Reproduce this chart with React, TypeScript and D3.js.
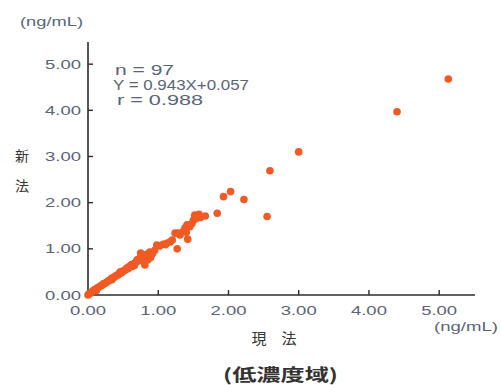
import React from "react";
import * as d3 from "d3";

// 現法 (x) vs 新法 (y), ng/mL
const points: [number, number][] = [
  [0.0, 0.0], [0.01, 0.02], [0.03, 0.03], [0.05, 0.06], [0.07, 0.09], [0.09, 0.11], [0.11, 0.12], [0.12, 0.1],
  [0.13, 0.15], [0.15, 0.16], [0.17, 0.19], [0.19, 0.2], [0.21, 0.22], [0.22, 0.24], [0.23, 0.25], [0.25, 0.26],
  [0.27, 0.28], [0.29, 0.31], [0.31, 0.32], [0.33, 0.35], [0.34, 0.33], [0.35, 0.37], [0.37, 0.38], [0.39, 0.41],
  [0.41, 0.42], [0.43, 0.44], [0.44, 0.46], [0.45, 0.47], [0.46, 0.5], [0.48, 0.48], [0.5, 0.52], [0.52, 0.53],
  [0.54, 0.55], [0.55, 0.58], [0.57, 0.57], [0.58, 0.61], [0.59, 0.6], [0.61, 0.63], [0.62, 0.66], [0.63, 0.62],
  [0.65, 0.67], [0.66, 0.64], [0.67, 0.69], [0.69, 0.72], [0.7, 0.76], [0.72, 0.74], [0.73, 0.77], [0.74, 0.8],
  [0.75, 0.91], [0.77, 0.84], [0.78, 0.87], [0.79, 0.78], [0.8, 0.72], [0.81, 0.65], [0.82, 0.82], [0.83, 0.79],
  [0.84, 0.88], [0.85, 0.76], [0.86, 0.84], [0.88, 0.93], [0.89, 0.81], [0.9, 0.86], [0.92, 0.9], [0.95, 0.97],
  [0.98, 1.08], [1.02, 1.06], [1.07, 1.1], [1.1, 1.09], [1.12, 1.12], [1.17, 1.15], [1.2, 1.19], [1.24, 1.34],
  [1.27, 1.0], [1.28, 1.34], [1.31, 1.3], [1.35, 1.37], [1.38, 1.45], [1.4, 1.36], [1.41, 1.52], [1.42, 1.21],
  [1.45, 1.48], [1.48, 1.55], [1.5, 1.62], [1.52, 1.73], [1.55, 1.66], [1.58, 1.75], [1.6, 1.68], [1.67, 1.71],
  [1.84, 1.77], [1.93, 2.13], [2.03, 2.24], [2.22, 2.07], [2.55, 1.7], [2.59, 2.69], [3.0, 3.1], [4.4, 3.97],
  [5.13, 4.68],
];
const ticks = [0, 1, 2, 3, 4, 5];
const statLines = ["n = 97", "Y = 0.943X+0.057", "r = 0.988"];
const unit = "(ng/mL)";
const xLabel = "現　法";
const yLabel = ["新", "法"];
const title = "(低濃度域)";

const dotColor = "#f15a24";
const tickColor = "#5b6477";
const axisColor = "#2b2b2b";
const font = "Liberation Sans, Arial, sans-serif";
const cjk = "Noto Sans CJK JP";

export default function App() {
  const x = d3.scaleLinear().domain([0, 5.51]).range([88, 475]);
  const y = d3.scaleLinear().domain([0, 5.48]).range([295, 42]);
  const fmt = d3.format(".2f");
  // widths of the stretched stat lines
  const statX = [115, 113, 117];
  const statW = [59, 136, 86];

  return (
    <svg
      width={501}
      height={385}
      style={{ position: "absolute", left: 0, top: 0, background: "#fff" }}
      fontFamily={font}
    >
      <text x={20} y={26} fontSize={12} fill={tickColor} textLength={63} lengthAdjust="spacingAndGlyphs">{unit}</text>

      {/* axes */}
      <line x1={x(0)} y1={y(5.48)} x2={x(0)} y2={y(0)} stroke={axisColor} strokeWidth={1.6} />
      <line x1={x(0)} y1={y(0)} x2={x(5.51)} y2={y(0)} stroke={axisColor} strokeWidth={1.6} />
      {ticks.map((t) => (
        <g key={"y" + t}>
          <line x1={x(0)} x2={x(0) + 5} y1={y(t)} y2={y(t)} stroke={axisColor} strokeWidth={1.4} />
          <text x={45} y={y(t) + 4.5} fontSize={12.5} fill={tickColor} textLength={36} lengthAdjust="spacingAndGlyphs">{fmt(t)}</text>
        </g>
      ))}
      {ticks.map((t) => (
        <g key={"x" + t}>
          {t > 0 && <line x1={x(t)} x2={x(t)} y1={y(0)} y2={y(0) - 5} stroke={axisColor} strokeWidth={1.4} />}
          <text x={x(t) - 18} y={315} fontSize={12.5} fill={tickColor} textLength={36} lengthAdjust="spacingAndGlyphs">{fmt(t)}</text>
        </g>
      ))}
      <text x={434} y={331} fontSize={12} fill={tickColor} textLength={64} lengthAdjust="spacingAndGlyphs">{unit}</text>

      {/* axis titles */}
      <text x={274} y={344} fontSize={15} fill="#333" textAnchor="middle" fontFamily={cjk}>{xLabel}</text>
      {yLabel.map((c, i) => (
        <text key={c} x={22} y={161 + i * 30} fontSize={14} fill="#333" textAnchor="middle" fontFamily={cjk}>{c}</text>
      ))}

      {/* regression stats */}
      {statLines.map((s, i) => (
        <text key={i} x={statX[i]} y={75 + i * 15} fontSize={14.5} fill={tickColor} textLength={statW[i]} lengthAdjust="spacingAndGlyphs">{s}</text>
      ))}

      {points.map((d, i) => (
        <circle key={i} cx={x(d[0])} cy={y(d[1])} r={3.8} fill={dotColor} />
      ))}

      <text x={223} y={381} fontSize={17} fontWeight="bold" fill="#333" fontFamily={cjk} textLength={115} lengthAdjust="spacingAndGlyphs">{title}</text>
    </svg>
  );
}
